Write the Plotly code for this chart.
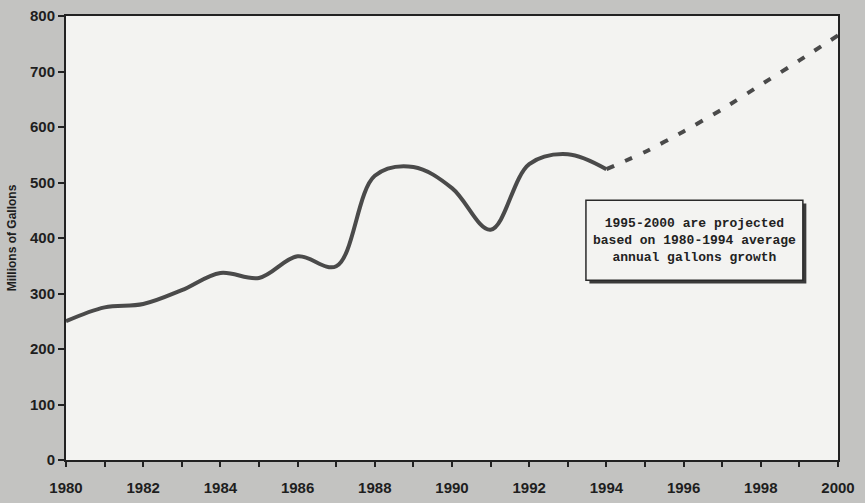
import plotly.graph_objects as go

# Historical volume, 1980-1994 (millions of gallons)
years_actual = [1980, 1981, 1982, 1983, 1984, 1985, 1986, 1987,
                1988, 1989, 1990, 1991, 1992, 1993, 1994]
gallons_actual = [250, 275, 281, 306, 337, 328, 367, 349,
                  512, 528, 490, 415, 533, 551, 524]

# Projection, 1994-2000
years_proj = [1994, 1995, 1996, 1997, 1998, 1999, 2000]
gallons_proj = [524, 555, 592, 632, 676, 720, 765]

x_tick_years = list(range(1980, 2001, 2))
y_ticks = list(range(0, 801, 100))

note_lines = ["1995-2000 are projected",
              "based on 1980-1994 average",
              "annual gallons growth"]

line_color = "#4a4a4a"
label_font = dict(family="Liberation Sans, Arial, sans-serif", size=15, color="#1e1e1e")

fig = go.Figure()
fig.add_trace(go.Scatter(
    x=years_actual, y=gallons_actual, mode="lines",
    line=dict(color=line_color, width=4, shape="spline", smoothing=1.0),
    showlegend=False, hoverinfo="x+y",
))
fig.add_trace(go.Scatter(
    x=years_proj, y=gallons_proj, mode="lines",
    line=dict(color=line_color, width=4, dash="8px,12px", shape="spline", smoothing=0.5),
    showlegend=False, hoverinfo="x+y",
))

# Text box with drop shadow
bx0, bx1, by0, by1 = 1993.47, 1999.09, 324, 468
fig.add_shape(type="rect", xref="x", yref="y",
              x0=bx0 + 0.09, x1=bx1 + 0.09, y0=by0 - 6, y1=by1 - 6,
              fillcolor="#3a3a3a", line=dict(width=0), layer="above")
fig.add_shape(type="rect", xref="x", yref="y",
              x0=bx0, x1=bx1, y0=by0, y1=by1,
              fillcolor="#f3f3f1", line=dict(color="#2a2a2a", width=1.5), layer="above")
fig.add_annotation(
    x=(bx0 + bx1) / 2, y=(by0 + by1) / 2, xref="x", yref="y",
    text="<br>".join(f"<b>{t}</b>" for t in note_lines),
    showarrow=False, align="center",
    font=dict(family="Liberation Mono, Courier New, monospace", size=13, color="#222"),
)

fig.update_layout(
    width=865, height=503,
    margin=dict(l=66, r=27, t=16, b=43),
    paper_bgcolor="#c3c3c1",
    plot_bgcolor="#f3f3f1",
    xaxis=dict(
        range=[1980, 2000], tickvals=x_tick_years,
        ticktext=[f"<b>{y}</b>" for y in x_tick_years],
        ticks="outside", ticklen=5, tickwidth=1.5, tickcolor="#222",
        ticklabelstandoff=8, automargin=False,
        minor=dict(dtick=1, ticks="outside", ticklen=5, tickwidth=1.5, tickcolor="#222"),
        showline=True, linecolor="#222", linewidth=2, mirror=True,
        showgrid=False, zeroline=False, tickfont=label_font,
    ),
    yaxis=dict(
        range=[0, 800], tickvals=y_ticks,
        ticktext=[f"<b>{v}</b>" for v in y_ticks],
        ticks="outside", ticklen=6, tickwidth=1.5, tickcolor="#222",
        showline=True, linecolor="#222", linewidth=2, mirror=True,
        showgrid=False, zeroline=False, tickfont=label_font, automargin=False,
        title=dict(text="<b>Millions of Gallons</b>", standoff=11,
                   font=dict(family="Liberation Sans, Arial, sans-serif", size=12, color="#1e1e1e")),
    ),
)

fig.write_html("out.html")
